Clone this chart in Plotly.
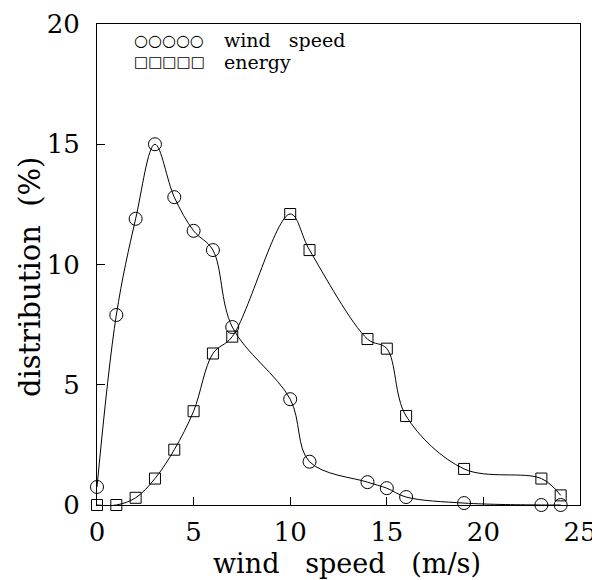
import plotly.graph_objects as go

speeds = [0, 1, 2, 3, 4, 5, 6, 7, 10, 11, 14, 15, 16, 19, 23, 24]
wind_dist = [0.75, 7.9, 11.9, 15.0, 12.8, 11.4, 10.6, 7.4, 4.4, 1.8, 0.95, 0.7, 0.33, 0.08, 0.0, 0.0]
energy_dist = [0.0, 0.0, 0.3, 1.1, 2.3, 3.9, 6.3, 7.0, 12.1, 10.6, 6.9, 6.5, 3.7, 1.5, 1.1, 0.4]
x_ticks = [0, 5, 10, 15, 20, 25]
y_ticks = [0, 5, 10, 15, 20]

FONT = "DejaVu Serif"

fig = go.Figure()
fig.add_trace(go.Scatter(
    x=speeds, y=wind_dist, mode="lines+markers", name="wind speed",
    line=dict(color="black", width=1, shape="spline", smoothing=1.0),
    marker=dict(symbol="circle-open", size=13, color="black", line=dict(width=1)),
    showlegend=False, cliponaxis=False))
fig.add_trace(go.Scatter(
    x=speeds, y=energy_dist, mode="lines+markers", name="energy",
    line=dict(color="black", width=1, shape="spline", smoothing=1.0),
    marker=dict(symbol="square-open", size=11, color="black", line=dict(width=1)),
    showlegend=False, cliponaxis=False))

# legend drawn as text
fig.add_annotation(xref="paper", yref="paper", x=0.072, y=0.966, xanchor="left", yanchor="middle",
                   text="○○○○○", showarrow=False, font=dict(family=FONT, size=16, color="black"))
fig.add_annotation(xref="paper", yref="paper", x=0.072, y=0.920, xanchor="left", yanchor="middle",
                   text="□□□□□", showarrow=False, font=dict(family=FONT, size=15, color="black"))
fig.add_annotation(xref="paper", yref="paper", x=0.258, y=0.966, xanchor="left", yanchor="middle",
                   text="wind   speed", showarrow=False, font=dict(family=FONT, size=19, color="black"))
fig.add_annotation(xref="paper", yref="paper", x=0.258, y=0.920, xanchor="left", yanchor="middle",
                   text="energy", showarrow=False, font=dict(family=FONT, size=19, color="black"))

# axis titles
fig.add_annotation(xref="paper", yref="paper", x=0.518, y=0, yshift=-58.5, xanchor="center", yanchor="middle",
                   text="wind   speed   (m/s)", showarrow=False, font=dict(family=FONT, size=27, color="black"))
fig.add_annotation(xref="paper", yref="paper", x=0, xshift=-67, y=0.474, xanchor="center", yanchor="middle",
                   textangle=-90, text="distribution  (%)", showarrow=False,
                   font=dict(family=FONT, size=29, color="black"))

fig.update_layout(
    width=600, height=580,
    margin=dict(l=89, r=28, t=16, b=83),
    paper_bgcolor="white", plot_bgcolor="white",
    font=dict(family=FONT, size=24, color="black"),
    xaxis=dict(range=[0, 25], tickvals=x_ticks, ticks="inside", ticklen=8, tickcolor="black",
               showline=True, linecolor="black", linewidth=1, mirror=True, showgrid=False, zeroline=False,
               automargin=False, ticklabeloverflow="allow",
               tickfont=dict(size=26), ticklabelstandoff=4),
    yaxis=dict(range=[0, 20], tickvals=y_ticks, ticks="inside", ticklen=8, tickcolor="black",
               showline=True, linecolor="black", linewidth=1, mirror=True, showgrid=False, zeroline=False,
               automargin=False, ticklabeloverflow="allow",
               tickfont=dict(size=26), ticklabelstandoff=11),
)

fig.write_html("out.html")
